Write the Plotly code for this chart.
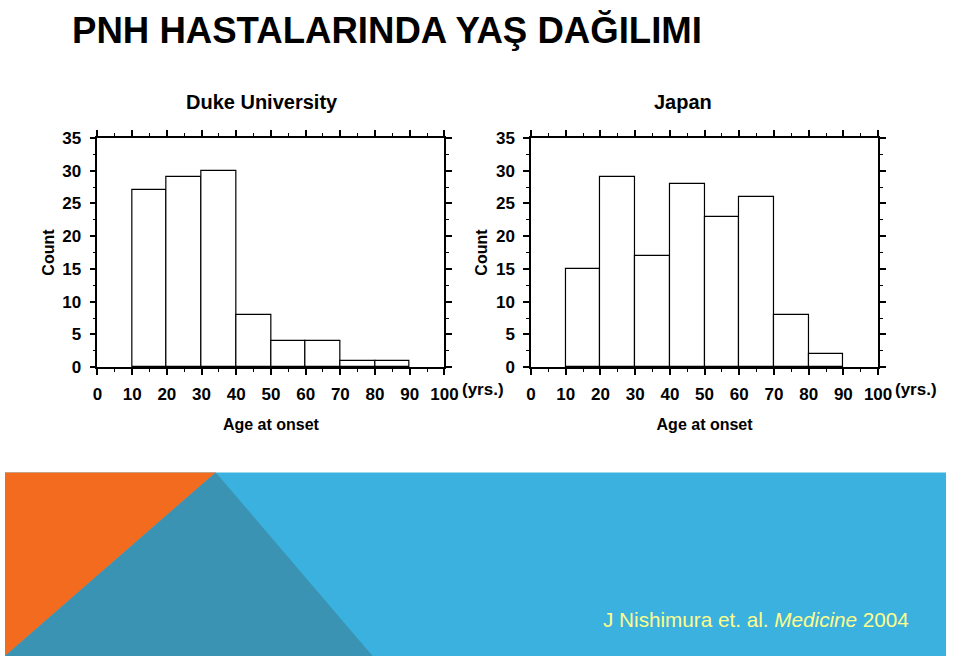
import plotly.graph_objects as go

# age bins (left edges, years) and counts
bin_left = [10, 20, 30, 40, 50, 60, 70, 80]
duke_counts = [27, 29, 30, 8, 4, 4, 1, 1]
japan_counts = [15, 29, 17, 28, 23, 26, 8, 2]
x_ticks = [0, 10, 20, 30, 40, 50, 60, 70, 80, 90, 100]
y_ticks = [0, 5, 10, 15, 20, 25, 30, 35]

W, H = 960, 666
FONT = "Liberation Sans, Arial, sans-serif"
ORANGE = "#F36B1F"
BLUE = "#3AB1DE"
TEAL = "#3A93B3"


def px_x(v):
    # window pixel -> paper fraction
    return v / W


def px_y(v):
    return 1 - v / H


centers = [b + 5 for b in bin_left]

fig = go.Figure()
fig.add_trace(go.Bar(x=centers, y=duke_counts, width=10, xaxis="x", yaxis="y",
                     marker=dict(color="white", line=dict(color="black", width=1.2))))
fig.add_trace(go.Bar(x=centers, y=japan_counts, width=10, xaxis="x2", yaxis="y2",
                     marker=dict(color="white", line=dict(color="black", width=1.2))))

tickfont = dict(family=FONT, size=17, color="black", weight="bold")
titlefont = dict(family=FONT, size=16, color="black", weight="bold")

xaxis_common = dict(
    range=[0, 100], tickvals=x_ticks, showgrid=False, zeroline=False,
    showline=True, linecolor="black", linewidth=1.5, mirror="ticks",
    ticks="outside", ticklen=6, tickwidth=1.5, tickcolor="black",
    minor=dict(dtick=5, ticks="outside", ticklen=3, tickwidth=1, tickcolor="black"),
    tickfont=tickfont, ticklabelstandoff=5,
    title=dict(text="Age at onset", font=titlefont, standoff=15),
    fixedrange=True,
)
yaxis_common = dict(
    range=[0, 35], tickvals=y_ticks, showgrid=False, zeroline=False,
    showline=True, linecolor="black", linewidth=1.5, mirror="ticks",
    ticks="outside", ticklen=6, tickwidth=1.5, tickcolor="black",
    minor=dict(dtick=2.5, ticks="outside", ticklen=3, tickwidth=1, tickcolor="black"),
    tickfont=tickfont, ticklabelstandoff=5,
    title=dict(text="Count", font=titlefont, standoff=4),
    fixedrange=True,
)

y_dom = [px_y(368.7), px_y(132.7)]

fig.update_layout(
    width=W, height=H,
    margin=dict(l=0, r=0, t=0, b=0),
    paper_bgcolor="white", plot_bgcolor="white",
    showlegend=False, bargap=0,
    xaxis=dict(xaxis_common, domain=[px_x(94.3), px_x(448.3)], anchor="y"),
    yaxis=dict(yaxis_common, domain=y_dom, anchor="x"),
    xaxis2=dict(xaxis_common, domain=[px_x(536.7), px_x(890.7)], anchor="y2"),
    yaxis2=dict(yaxis_common, domain=y_dom, anchor="x2"),
)

# bottom decoration band
band_top = px_y(477)
fig.add_shape(type="rect", xref="paper", yref="paper", x0=0, x1=1, y0=0, y1=band_top,
              fillcolor=BLUE, line_width=0, layer="below")
fig.add_shape(type="path", xref="paper", yref="paper",
              path=f"M 0 {band_top} L {px_x(215)} {band_top} L 0 0 Z",
              fillcolor=ORANGE, line_width=0, layer="below")
fig.add_shape(type="path", xref="paper", yref="paper",
              path=f"M {px_x(215)} {band_top} L 0 0 L {px_x(375)} 0 Z",
              fillcolor=TEAL, line_width=0, layer="below")

annotations = [
    dict(text="PNH HASTALARINDA YAŞ DAĞILIMI", x=px_x(66), y=px_y(22),
         xanchor="left", yanchor="middle",
         font=dict(family=FONT, size=36.6, color="black", weight="bold")),
    dict(text="Duke University", x=px_x(262), y=px_y(96), xanchor="center", yanchor="middle",
         font=dict(family=FONT, size=20, color="black", weight="bold")),
    dict(text="Japan", x=px_x(692), y=px_y(96), xanchor="center", yanchor="middle",
         font=dict(family=FONT, size=20, color="black", weight="bold")),
    dict(text="(yrs.)", x=px_x(464), y=px_y(392), xanchor="left", yanchor="middle",
         font=tickfont),
    dict(text="(yrs.)", x=px_x(906), y=px_y(392), xanchor="left", yanchor="middle",
         font=tickfont),
    dict(text="J Nishimura et. al. <i>Medicine</i> 2004", x=px_x(608), y=px_y(628),
         xanchor="left", yanchor="middle",
         font=dict(family=FONT, size=20.7, color="#FFFF8C")),
]
for a in annotations:
    fig.add_annotation(xref="paper", yref="paper", showarrow=False, **a)

# drop the default page margin so the 960x666 figure fills the window exactly
fig.write_html(
    "out.html",
    config={"displayModeBar": False},
    post_script="document.body.style.margin='0';document.body.style.overflow='hidden';",
)
